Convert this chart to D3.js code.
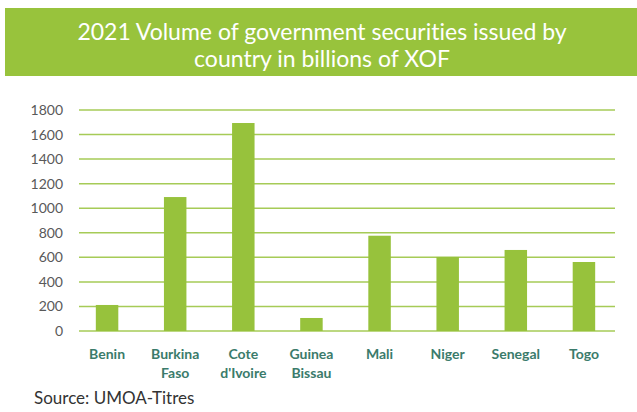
<!DOCTYPE html>
<html><head><meta charset="utf-8">
<script src="https://cdn.jsdelivr.net/npm/d3@7"></script>
<style>body{margin:0;background:#fff}svg{display:block}text{font-variant-ligatures:none}</style>
</head><body>
<script>
const categories = [["Benin"],["Burkina","Faso"],["Cote","d'Ivoire"],["Guinea","Bissau"],["Mali"],["Niger"],["Senegal"],["Togo"]];
const values = [212, 1091, 1694, 106, 776, 603, 660, 562];
const yTicks = [0,200,400,600,800,1000,1200,1400,1600,1800];
const titleLines = ["2021 Volume of government securities issued by","country in billions of XOF"];
const source = "Source: UMOA-Titres";

const W=637,H=412;
const svg=d3.select("body").append("svg").attr("width",W).attr("height",H);
const font="Lato, 'Open Sans', sans-serif";
svg.append("rect").attr("x",5).attr("y",8).attr("width",632).attr("height",68).attr("fill","#98c33c");
svg.append("text").attr("x",322).attr("y",0).attr("text-anchor","middle").attr("fill","#fff")
  .attr("font-family",font).attr("font-size",23)
  .selectAll("tspan").data(titleLines).join("tspan").attr("x",322).attr("y",(d,i)=>40+i*27).text(d=>d);

const x=d3.scaleBand().domain(categories.map(d=>d.join(" "))).range([73,618]).paddingInner(0.67).paddingOuter(0.335);
const y=d3.scaleLinear().domain([0,1800]).range([331,110]);

const grid=svg.append("g");
grid.selectAll("line").data(yTicks).join("line")
  .attr("x1",79).attr("x2",615).attr("y1",d=>y(d)).attr("y2",d=>y(d))
  .attr("stroke","#a6cb57").attr("stroke-width",1.5);

const yAxis=svg.append("g").attr("transform","translate(63,0)").call(d3.axisLeft(y).tickValues(yTicks).tickFormat(d3.format("d")).tickSize(0).tickPadding(0));
yAxis.select(".domain").remove();
yAxis.selectAll("text").attr("font-family",font).attr("font-size",14).attr("fill","#595959");

svg.append("g").selectAll("rect").data(values).join("rect")
  .attr("x",(d,i)=>x(categories[i].join(" ")))
  .attr("width",x.bandwidth())
  .attr("y",d=>y(d)).attr("height",d=>y(0)-y(d))
  .attr("fill","#97c23c");

const xAxis=svg.append("g").attr("transform","translate(0,331)").call(d3.axisBottom(x).tickSize(0).tickPadding(0));
xAxis.select(".domain").remove();
xAxis.selectAll("text").each(function(d,i){
  const t=d3.select(this).text(null).attr("y",0).attr("dy",null)
    .attr("font-family",font).attr("font-size",14).attr("font-weight","bold").attr("fill","#3b7b6b");
  categories[i].forEach((s,j)=>t.append("tspan").attr("x",0).attr("y",28+j*19).text(s));
});

svg.append("text").attr("x",34).attr("y",404).attr("font-family",font).attr("font-size",17).attr("fill","#333").text(source);
</script>
</body></html>
